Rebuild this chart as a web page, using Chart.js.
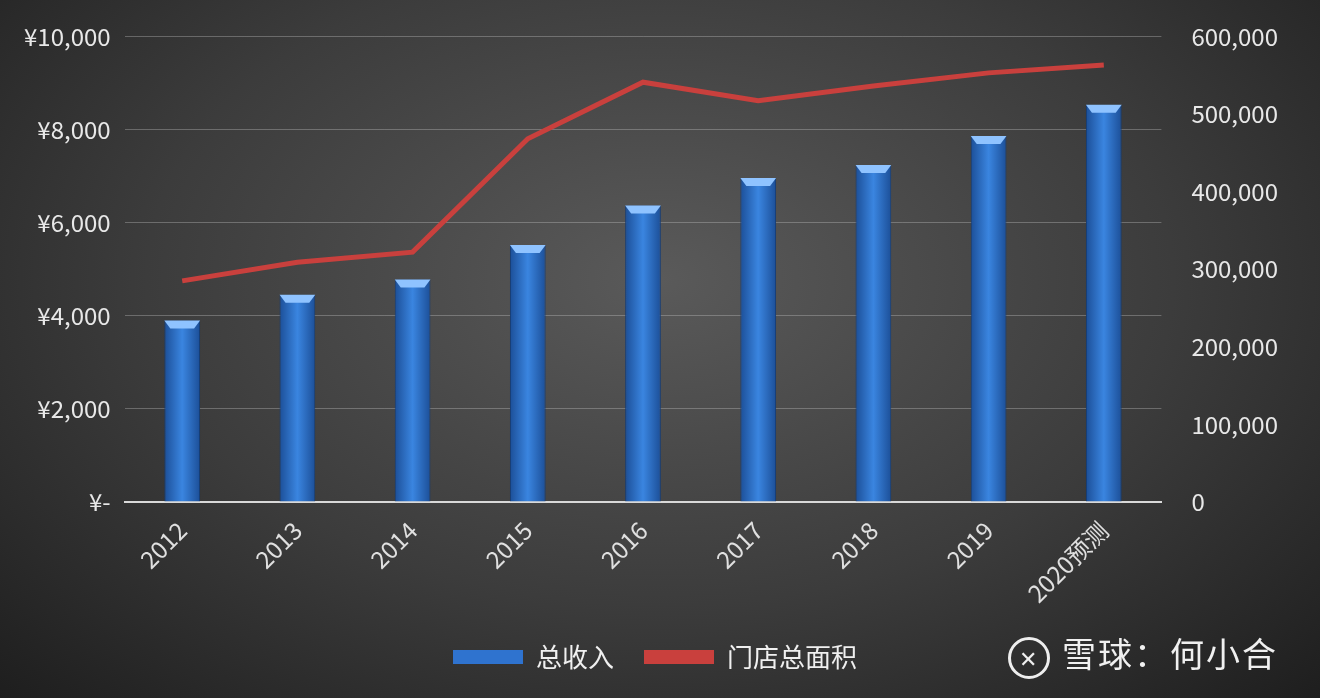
<!DOCTYPE html>
<html><head><meta charset="utf-8">
<script src="https://cdn.jsdelivr.net/npm/chart.js@4"></script>
<style>
html,body{margin:0;padding:0;}
#wrap{position:relative;width:1320px;height:698px;background:radial-gradient(ellipse at 50% 40%,#5a5a5a 0%,#3c3c3c 55%,#1e1e1e 100%);}
#mark{position:absolute;right:42px;top:628px;color:#f0f0f0;font:34px "Noto Sans CJK SC",sans-serif;letter-spacing:2px;}
#mark span{display:inline-block;width:36px;height:36px;border:3px solid #eee;border-radius:50%;vertical-align:middle;margin-right:12px;font-size:22px;line-height:34px;text-align:center;}
</style></head>
<body><div id="wrap"><canvas id="c" width="1320" height="698"></canvas><div id="mark"><span>✕</span>雪球：何小合</div></div>
<script>
const categories = ['2012','2013','2014','2015','2016','2017','2018','2019','2020预测'];
const revenue = [3900, 4450, 4780, 5520, 6370, 6960, 7240, 7860, 8530];
const storeArea = [285000, 309000, 322000, 468000, 541000, 517000, 536000, 553000, 563000];
const leftTicks = ['¥-','¥2,000','¥4,000','¥6,000','¥8,000','¥10,000'];

const FONT = '"Noto Sans CJK SC", "Noto Sans", sans-serif';

function barFill(ctx) {
  const chart = ctx.chart;
  const xs = chart.scales && chart.scales.x;
  if (!xs || !chart.chartArea) return '#2f6fc4';
  const x = xs.getPixelForValue(ctx.dataIndex);
  const w = (xs.width / categories.length) * 0.31;
  if (!isFinite(x) || !isFinite(w) || w <= 0) return '#2f6fc4';
  const g = chart.ctx.createLinearGradient(x - w / 2, 0, x + w / 2, 0);
  g.addColorStop(0, '#1c4f98');
  g.addColorStop(0.5, '#3a85e0');
  g.addColorStop(1, '#1c4f98');
  return g;
}

const bevel = {
  id: 'bevel',
  afterDatasetsDraw(chart) {
    const c = chart.ctx;
    chart.getDatasetMeta(1).data.forEach(el => {
      const w = el.width, x = el.x, y = el.y;
      if (!isFinite(w) || !isFinite(x) || !isFinite(y)) return;
      c.save();
      c.fillStyle = '#8fc3ff';
      c.beginPath();
      c.moveTo(x - w / 2, y); c.lineTo(x + w / 2, y);
      c.lineTo(x + w / 2 - 6, y + 8); c.lineTo(x - w / 2 + 6, y + 8);
      c.closePath(); c.fill();
      c.restore();
    });
  }
};

new Chart(document.getElementById('c'), {
  data: {
    labels: categories,
    datasets: [
      {
        type: 'line', label: '门店总面积', data: storeArea, yAxisID: 'y2',
        borderColor: '#c9403d', borderWidth: 5, pointRadius: 0, tension: 0, order: 0,
        backgroundColor: '#c9403d'
      },
      {
        type: 'bar', label: '总收入', data: revenue, yAxisID: 'y',
        backgroundColor: barFill, borderColor: '#163e78', borderWidth: 1,
        barPercentage: 0.31, categoryPercentage: 1, order: 1
      }
    ]
  },
  plugins: [bevel],
  options: {
    responsive: false, animation: false,
    layout: { padding: { left: 10, right: 20, top: 22, bottom: 18 } },
    plugins: {
      tooltip: { enabled: false },
      legend: {
        position: 'bottom',
        labels: {
          color: '#f0f0f0', font: { size: 26, family: FONT },
          boxWidth: 70, boxHeight: 14, padding: 30,
          generateLabels(chart) {
            return [
              { text: '总收入', fillStyle: '#2f73cf', strokeStyle: '#2f73cf', lineWidth: 0, fontColor: '#f0f0f0', datasetIndex: 1 },
              { text: '门店总面积', fillStyle: '#c9403d', strokeStyle: '#c9403d', lineWidth: 0, fontColor: '#f0f0f0', datasetIndex: 0 }
            ];
          }
        }
      }
    },
    scales: {
      x: {
        grid: { display: false },
        border: { color: '#d9d9d9', width: 2 },
        ticks: { color: '#e0e0e0', font: { size: 24, family: FONT }, maxRotation: 45, minRotation: 45, padding: 6 }
      },
      y: {
        min: 0, max: 10000,
        afterBuildTicks(axis) { axis.ticks = leftTicks.map((_, i) => ({ value: i * 2000 })); },
        ticks: { color: '#e8e8e8', font: { size: 24, family: FONT }, padding: 14, callback: (v, i) => leftTicks[i] },
        grid: { color: 'rgba(200,200,200,0.35)', drawTicks: false },
        border: { display: false }
      },
      y2: {
        position: 'right', min: 0, max: 600000,
        ticks: { stepSize: 100000, color: '#e8e8e8', font: { size: 24, family: FONT }, padding: 22 },
        grid: { display: false },
        border: { display: false }
      }
    }
  }
});
</script></body></html>
